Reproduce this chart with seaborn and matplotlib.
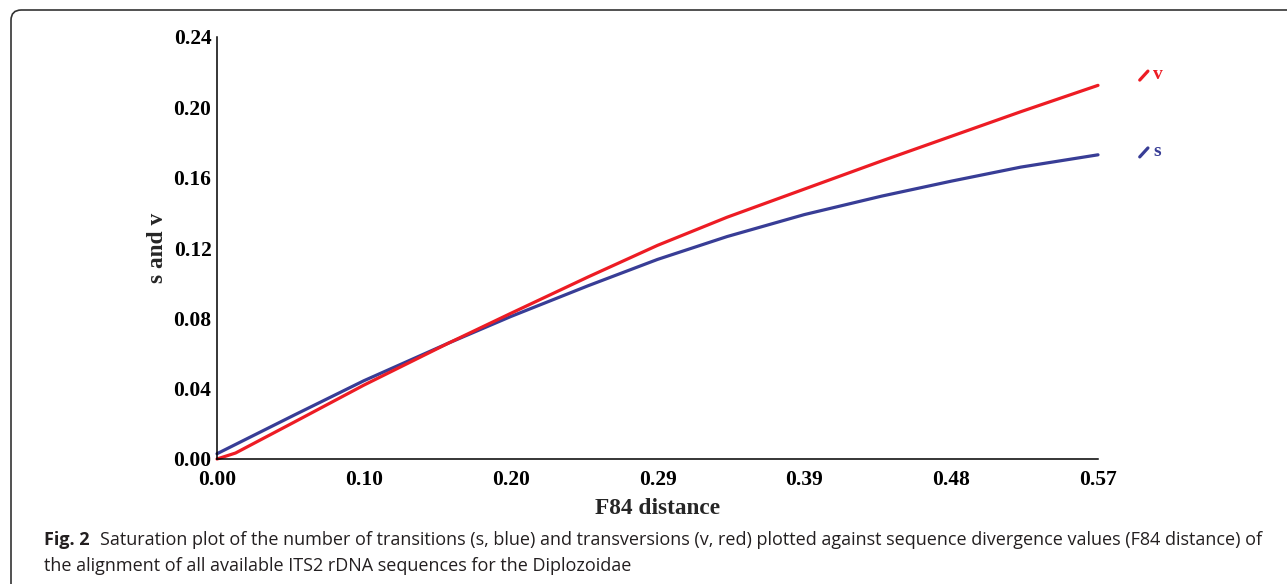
import numpy as np
import pandas as pd
import matplotlib
matplotlib.use("Agg")
import matplotlib.pyplot as plt
import seaborn as sns
from matplotlib.patches import FancyBboxPatch

# ---- data ----
s_x = [0.0, 0.05, 0.095, 0.15, 0.19, 0.24, 0.285, 0.33, 0.38, 0.43, 0.475, 0.52, 0.57]
s_y = [0.003, 0.025, 0.0445, 0.066, 0.081, 0.0985, 0.1135, 0.1265, 0.139, 0.1495, 0.158, 0.166, 0.173]
v_x = [0.0, 0.012, 0.05, 0.095, 0.15, 0.19, 0.24, 0.285, 0.33, 0.38, 0.43, 0.475, 0.52, 0.57]
v_y = [0.0, 0.0034, 0.021, 0.042, 0.066, 0.0828, 0.1035, 0.1215, 0.1375, 0.1535, 0.1695, 0.1835, 0.1975, 0.2125]
x_tick_labels = ["0.00", "0.10", "0.20", "0.29", "0.39", "0.48", "0.57"]
y_ticks = [0.00, 0.04, 0.08, 0.12, 0.16, 0.20, 0.24]
series_names = ["s", "v"]
caption_bold = "Fig. 2"
caption_1 = ("Saturation plot of the number of transitions (s, blue) and transversions (v, red) "
             "plotted against sequence divergence values (F84 distance) of")
caption_2 = "the alignment of all available ITS2 rDNA sequences for the Diplozoidae"

BLUE = "#383D96"
RED = "#ED1C24"

sns.set_theme(style="white")
plt.rcParams["font.family"] = ["Liberation Serif", "DejaVu Serif"]

df = pd.concat([
    pd.DataFrame({"x": s_x, "y": s_y, "series": "s"}),
    pd.DataFrame({"x": v_x, "y": v_y, "series": "v"}),
])

W, H = 1287, 584
fig = plt.figure(figsize=(W / 100, H / 100), dpi=100)
ax = fig.add_axes([217 / W, 1 - 459 / H, (1098 - 217) / W, (459 - 37) / H])
sns.lineplot(data=df, x="x", y="y", hue="series", palette={"s": BLUE, "v": RED},
             linewidth=2.3, ax=ax, legend=False, sort=False, clip_on=False)

ax.set_xlim(0, 0.57)
ax.set_ylim(0, 0.24)
ax.set_xticks(np.linspace(0, 0.57, len(x_tick_labels)))
ax.set_xticklabels(x_tick_labels)
ax.set_yticks(y_ticks)
ax.set_yticklabels([f"{t:.2f}" for t in y_ticks])
for lab in ax.get_xticklabels() + ax.get_yticklabels():
    lab.set_fontweight("bold")
    lab.set_fontsize(15.5)
ax.tick_params(axis="both", direction="in", length=7, width=1, colors="black")
ax.tick_params(axis="y", pad=4)
ax.tick_params(axis="x", pad=8)
for side in ["top", "right"]:
    ax.spines[side].set_visible(False)
for side in ["left", "bottom"]:
    ax.spines[side].set_color("black")
    ax.spines[side].set_linewidth(1.1)
ax.set_xlabel("F84 distance", fontsize=16.8, fontweight="bold", labelpad=6)
ax.set_ylabel("s and v", fontsize=16.8, fontweight="bold", labelpad=4)

# end labels (legend-like marks)
for name, col, y0, y1, yt in [("v", RED, 0.2155, 0.2206, 0.2185),
                              ("s", BLUE, 0.1718, 0.1769, 0.1748)]:
    ax.plot([0.597, 0.6023], [y0, y1], color=col, lw=2.3,
            clip_on=False, solid_capstyle="round")
    ax.text(0.6058, yt, name, color=col, fontsize=14, fontweight="bold",
            va="center", ha="left", clip_on=False)

# caption
cap_font = ["Open Sans", "DejaVu Sans"]
cap_size = 12.95
t1 = fig.text(44 / W, 1 - 540 / H, caption_bold, fontsize=cap_size, fontweight="bold",
              family=cap_font, color="#231F20", va="center", ha="left")
fig.canvas.draw()
bb = t1.get_window_extent()
fig.text((bb.x1 + 10) / W, 1 - 540 / H, caption_1, fontsize=cap_size,
         family=cap_font, color="#231F20", va="center", ha="left")
fig.text(44 / W, 1 - 566 / H, caption_2, fontsize=cap_size,
         family=cap_font, color="#231F20", va="center", ha="left")

# rounded frame (top-left corner visible)
frame = FancyBboxPatch((11 / W, -0.2), 1.2, 1.2 - 10 / H,
                       boxstyle="round,pad=0,rounding_size=0.008",
                       transform=fig.transFigure, fill=False, edgecolor="#333333",
                       linewidth=1.2, mutation_aspect=W / H)
fig.patches.append(frame)

fig.savefig("out.png", dpi=100)
